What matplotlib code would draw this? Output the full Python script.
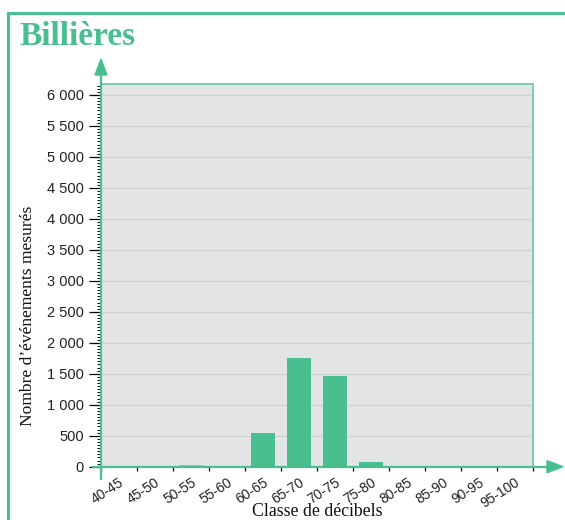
import matplotlib
matplotlib.use("Agg")
import matplotlib.pyplot as plt
from matplotlib.ticker import MultipleLocator, FixedLocator, FuncFormatter
from matplotlib.patches import Polygon
from matplotlib.lines import Line2D

# ---- data ----
categories = ["40-45", "45-50", "50-55", "55-60", "60-65", "65-70",
              "70-75", "75-80", "80-85", "85-90", "90-95", "95-100"]
counts = [0, 0, 25, 0, 550, 1750, 1465, 80, 0, 0, 0, 0]
bar_colors = ["#49be8e", "#49be8e", "#c9a3d8", "#49be8e", "#49be8e", "#49be8e",
              "#49be8e", "#49be8e", "#49be8e", "#49be8e", "#49be8e", "#49be8e"]
title = "Billières"
xlabel = "Classe de décibels"
ylabel = "Nombre d’événements mesurés"

GREEN = "#49be8e"
W, H = 565, 520
fig = plt.figure(figsize=(W / 100, H / 100), dpi=100)

def fx(px):
    return px / W

def fy(py):
    return 1 - py / H

ax_l, ax_r, ax_t, ax_b = 101, 533, 84, 466.7
ax = fig.add_axes([fx(ax_l), fy(ax_b), fx(ax_r) - fx(ax_l), fy(ax_t) - fy(ax_b)])
ax.set_facecolor("#e3e4e6")

n = len(categories)
xs = list(range(n))
ax.bar(xs, counts, width=0.65, color=bar_colors, zorder=3)
ax.set_xlim(-0.5, n - 0.5)
ymax = (ax_b - ax_t) / (ax_b - 95) * 6000
ax.set_ylim(0, ymax)

# grid
ax.yaxis.set_major_locator(MultipleLocator(500))
ax.yaxis.set_minor_locator(MultipleLocator(50))
ax.grid(axis="y", which="major", color="#d0d1d4", lw=1, zorder=1)
ax.set_axisbelow(True)

def fmt(v, pos):
    v = int(round(v))
    s = f"{v:,}".replace(",", " ")
    return s
ax.yaxis.set_major_formatter(FuncFormatter(fmt))
ax.tick_params(axis="y", which="major", length=8.5, width=0.9, color="black",
               labelsize=10.5, pad=4, labelcolor="#222222")
ax.tick_params(axis="y", which="minor", length=2.8, width=0.7, color="black")
for lab in ax.get_yticklabels():
    lab.set_fontfamily("Liberation Sans")

# x ticks: boundaries (major, unlabeled), labels at centers (minor)
ax.xaxis.set_major_locator(FixedLocator([i - 0.5 for i in range(n + 1)]))
ax.xaxis.set_major_formatter(FuncFormatter(lambda v, p: ""))
ax.tick_params(axis="x", which="major", length=3, width=0.9, color="black")
ax.set_xticks(xs, minor=True)
ax.set_xticklabels(categories, minor=True, rotation=33, ha="right", va="top",
                   rotation_mode="anchor", fontsize=10, family="Liberation Sans",
                   color="#222222")
ax.tick_params(axis="x", which="minor", length=0, pad=6)

# spines
for s in ["top", "right"]:
    ax.spines[s].set_color("#74cba6")
    ax.spines[s].set_linewidth(1.3)
ax.spines["left"].set_visible(False)
ax.spines["bottom"].set_visible(False)

# axis lines with arrows (figure decorations)
fig.add_artist(Line2D([fx(ax_l), fx(ax_l)], [fy(479), fy(72)], color=GREEN, lw=1.6,
                      transform=fig.transFigure, zorder=5))
fig.add_artist(Line2D([fx(93), fx(550)], [fy(ax_b), fy(ax_b)], color=GREEN, lw=1.6,
                      transform=fig.transFigure, zorder=5))
fig.add_artist(Polygon([[fx(ax_l), fy(59)], [fx(ax_l - 6), fy(75)], [fx(ax_l + 6), fy(75)]],
                       closed=True, color=GREEN, transform=fig.transFigure, zorder=6))
fig.add_artist(Polygon([[fx(563), fy(ax_b)], [fx(547), fy(ax_b - 6)], [fx(547), fy(ax_b + 6)]],
                       closed=True, color=GREEN, transform=fig.transFigure, zorder=6))

# outer frame
fig.add_artist(Line2D([fx(8), fx(8)], [fy(13), 0], color=GREEN, lw=2.2,
                      transform=fig.transFigure))
fig.add_artist(Line2D([fx(8), 1], [fy(13), fy(13)], color=GREEN, lw=2.2,
                      transform=fig.transFigure))

# texts
fig.text(fx(19), fy(45), title, fontsize=24, fontweight="bold",
         family="Liberation Serif", color=GREEN, ha="left", va="baseline")
fig.text(fx(317), fy(512), xlabel, fontsize=12.8, family="Liberation Serif",
         color="#111111", ha="center", va="center")
fig.text(fx(28), fy(316), ylabel, fontsize=12.6, family="Liberation Serif",
         color="#111111", ha="center", va="center", rotation=90)

fig.savefig("out.png", dpi=100)
